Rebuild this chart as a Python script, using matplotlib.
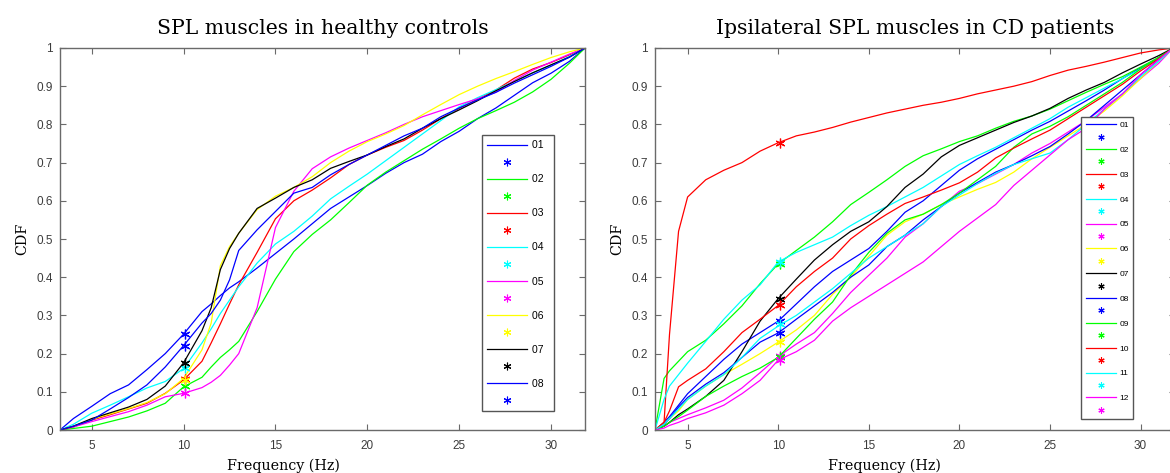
import numpy as np
import matplotlib
matplotlib.use("Agg")
import matplotlib.pyplot as plt
from matplotlib.lines import Line2D

# ---- data ----
# MATLAB style pure colours: b g r c m y k b g r c m
subject_colors = ["#0000ff", "#00ff00", "#ff0000", "#00ffff", "#ff00ff", "#ffff00",
                  "#000000", "#0000ff", "#00ff00", "#ff0000", "#00ffff", "#ff00ff"]

# healthy controls, frequency grid (Hz)
freq_hc = [3.27, 4, 5, 6, 7, 8, 9, 10, 11, 11.5, 12, 12.5, 13, 14, 15, 16, 17, 18,
           19, 20, 21, 22, 23, 24, 25, 26, 27, 28, 29, 30, 31, 31.85]
hc_01 = [0, 0.03, 0.062, 0.095, 0.118, 0.158, 0.20, 0.251, 0.31, 0.33, 0.352, 0.372, 0.388, 0.424, 0.462, 0.50,
         0.54, 0.58, 0.61, 0.64, 0.672, 0.70, 0.722, 0.755, 0.782, 0.815, 0.843, 0.876, 0.909, 0.934, 0.965, 1.0]
hc_02 = [0, 0.004, 0.01, 0.022, 0.034, 0.05, 0.07, 0.113, 0.138, 0.165, 0.19, 0.21, 0.232, 0.31, 0.395, 0.467,
         0.512, 0.55, 0.595, 0.641, 0.675, 0.705, 0.735, 0.762, 0.79, 0.815, 0.836, 0.858, 0.885, 0.918, 0.96, 1.0]
hc_03 = [0, 0.008, 0.026, 0.04, 0.055, 0.07, 0.096, 0.131, 0.18, 0.228, 0.278, 0.33, 0.38, 0.465, 0.553, 0.60,
         0.628, 0.66, 0.695, 0.72, 0.74, 0.758, 0.785, 0.815, 0.842, 0.866, 0.89, 0.921, 0.945, 0.962, 0.982, 1.0]
hc_04 = [0, 0.015, 0.044, 0.065, 0.087, 0.11, 0.127, 0.161, 0.228, 0.265, 0.305, 0.34, 0.375, 0.437, 0.487, 0.52,
         0.56, 0.605, 0.638, 0.67, 0.705, 0.74, 0.775, 0.81, 0.846, 0.87, 0.891, 0.913, 0.935, 0.955, 0.978, 1.0]
hc_05 = [0, 0.008, 0.022, 0.035, 0.048, 0.065, 0.087, 0.096, 0.111, 0.125, 0.143, 0.17, 0.20, 0.32, 0.53, 0.625,
         0.684, 0.715, 0.738, 0.758, 0.778, 0.80, 0.82, 0.836, 0.852, 0.867, 0.884, 0.915, 0.942, 0.963, 0.984, 1.0]
hc_06 = [0, 0.01, 0.028, 0.042, 0.056, 0.072, 0.095, 0.135, 0.21, 0.28, 0.43, 0.48, 0.515, 0.577, 0.612, 0.635,
         0.663, 0.70, 0.73, 0.755, 0.775, 0.797, 0.825, 0.852, 0.878, 0.90, 0.92, 0.938, 0.957, 0.975, 0.99, 1.0]
hc_07 = [0, 0.01, 0.03, 0.045, 0.06, 0.08, 0.115, 0.176, 0.26, 0.32, 0.42, 0.475, 0.515, 0.58, 0.607, 0.635,
         0.655, 0.685, 0.703, 0.72, 0.742, 0.762, 0.79, 0.815, 0.838, 0.862, 0.888, 0.912, 0.935, 0.956, 0.976, 1.0]
hc_08 = [0, 0.01, 0.026, 0.055, 0.085, 0.118, 0.165, 0.221, 0.28, 0.305, 0.34, 0.393, 0.47, 0.524, 0.572, 0.62,
         0.635, 0.668, 0.695, 0.72, 0.745, 0.77, 0.79, 0.82, 0.843, 0.864, 0.884, 0.908, 0.93, 0.952, 0.976, 1.0]
hc_curves = [hc_01, hc_02, hc_03, hc_04, hc_05, hc_06, hc_07, hc_08]
hc_star = [0.251, 0.115, 0.133, 0.163, 0.096, 0.13, 0.176, 0.221]

# CD patients, ipsilateral
freq_cd = [3.2, 3.7, 4, 4.5, 5, 6, 7, 8, 9, 10, 11, 12, 13, 14, 15, 16, 17, 18,
           19, 20, 21, 22, 23, 24, 25, 26, 27, 28, 29, 30, 31, 31.8]
cd_01 = [0, 0.02, 0.035, 0.065, 0.095, 0.14, 0.185, 0.225, 0.255, 0.285, 0.33, 0.375, 0.415, 0.445, 0.475, 0.52,
         0.57, 0.60, 0.64, 0.68, 0.71, 0.735, 0.76, 0.785, 0.808, 0.835, 0.862, 0.89, 0.92, 0.948, 0.975, 1.0]
cd_02 = [0, 0.135, 0.155, 0.18, 0.205, 0.235, 0.278, 0.325, 0.383, 0.435, 0.47, 0.505, 0.545, 0.59, 0.622, 0.655,
         0.69, 0.718, 0.736, 0.755, 0.77, 0.79, 0.808, 0.822, 0.84, 0.862, 0.884, 0.905, 0.925, 0.95, 0.975, 1.0]
cd_03 = [0, 0.02, 0.25, 0.52, 0.61, 0.655, 0.68, 0.70, 0.73, 0.752, 0.77, 0.78, 0.792, 0.806, 0.818, 0.83,
         0.84, 0.85, 0.858, 0.868, 0.88, 0.89, 0.90, 0.912, 0.928, 0.942, 0.952, 0.963, 0.975, 0.987, 0.995, 1.0]
cd_04 = [0, 0.08, 0.115, 0.145, 0.175, 0.232, 0.29, 0.34, 0.38, 0.44, 0.465, 0.485, 0.505, 0.535, 0.562, 0.585,
         0.61, 0.635, 0.665, 0.695, 0.718, 0.74, 0.765, 0.79, 0.815, 0.845, 0.87, 0.895, 0.92, 0.945, 0.972, 1.0]
cd_05 = [0, 0.01, 0.02, 0.03, 0.04, 0.058, 0.078, 0.11, 0.15, 0.192, 0.225, 0.255, 0.305, 0.36, 0.405, 0.45,
         0.505, 0.54, 0.585, 0.625, 0.645, 0.67, 0.695, 0.725, 0.75, 0.78, 0.81, 0.845, 0.88, 0.92, 0.96, 1.0]
cd_06 = [0, 0.015, 0.03, 0.05, 0.08, 0.115, 0.145, 0.172, 0.20, 0.23, 0.262, 0.30, 0.355, 0.40, 0.455, 0.51,
         0.545, 0.565, 0.59, 0.61, 0.63, 0.648, 0.675, 0.71, 0.74, 0.77, 0.80, 0.835, 0.875, 0.92, 0.965, 1.0]
cd_07 = [0, 0.01, 0.02, 0.04, 0.055, 0.088, 0.13, 0.205, 0.285, 0.344, 0.395, 0.445, 0.485, 0.52, 0.545, 0.585,
         0.635, 0.67, 0.715, 0.745, 0.765, 0.785, 0.805, 0.822, 0.842, 0.868, 0.89, 0.91, 0.935, 0.958, 0.98, 1.0]
cd_08 = [0, 0.015, 0.03, 0.06, 0.085, 0.12, 0.15, 0.19, 0.23, 0.254, 0.29, 0.325, 0.36, 0.40, 0.432, 0.48,
         0.51, 0.55, 0.585, 0.62, 0.648, 0.675, 0.695, 0.718, 0.742, 0.775, 0.81, 0.85, 0.89, 0.93, 0.97, 1.0]
cd_09 = [0, 0.01, 0.02, 0.035, 0.052, 0.088, 0.115, 0.14, 0.162, 0.19, 0.24, 0.29, 0.335, 0.405, 0.465, 0.515,
         0.55, 0.565, 0.59, 0.62, 0.655, 0.69, 0.74, 0.775, 0.795, 0.82, 0.85, 0.88, 0.91, 0.945, 0.975, 1.0]
cd_10 = [0, 0.02, 0.05, 0.113, 0.13, 0.16, 0.205, 0.255, 0.29, 0.326, 0.375, 0.415, 0.45, 0.50, 0.535, 0.565,
         0.593, 0.61, 0.628, 0.647, 0.675, 0.712, 0.738, 0.762, 0.785, 0.815, 0.845, 0.875, 0.905, 0.94, 0.972, 1.0]
cd_11 = [0, 0.015, 0.03, 0.055, 0.08, 0.115, 0.145, 0.19, 0.24, 0.272, 0.30, 0.335, 0.37, 0.41, 0.45, 0.48,
         0.51, 0.54, 0.585, 0.615, 0.645, 0.672, 0.695, 0.71, 0.725, 0.76, 0.80, 0.84, 0.88, 0.925, 0.965, 1.0]
cd_12 = [0, 0.005, 0.012, 0.02, 0.03, 0.045, 0.065, 0.095, 0.13, 0.183, 0.205, 0.235, 0.285, 0.32, 0.35, 0.38,
         0.41, 0.44, 0.48, 0.52, 0.555, 0.59, 0.64, 0.68, 0.72, 0.76, 0.79, 0.84, 0.88, 0.93, 0.97, 1.0]
cd_curves = [cd_01, cd_02, cd_03, cd_04, cd_05, cd_06, cd_07, cd_08, cd_09, cd_10, cd_11, cd_12]
cd_star = [0.285, 0.435, 0.752, 0.44, 0.195, 0.23, 0.344, 0.254, 0.19, 0.326, 0.278, 0.183]

star_freq = 10.1
x_ticks = [5, 10, 15, 20, 25, 30]
y_ticks = [0, 0.1, 0.2, 0.3, 0.4, 0.5, 0.6, 0.7, 0.8, 0.9, 1]
y_ticklabels = ["0", "0.1", "0.2", "0.3", "0.4", "0.5", "0.6", "0.7", "0.8", "0.9", "1"]

serif = ["DejaVu Serif"]
sans = ["Liberation Sans", "DejaVu Sans"]
star_marker = (6, 2, 0)


def draw_panel(ax, freq, curves, stars, title, xlim, xlab_x, leg_anchor, leg_fs, leg_spacing,
               leg_handlelen, leg_star, lab_suffix):
    handles, labels = [], []
    for i, cdf in enumerate(curves):
        col = subject_colors[i]
        ln, = ax.plot(freq, cdf, color=col, lw=0.9, zorder=2)
        handles.append(ln)
        labels.append("%02d" % (i + 1) + lab_suffix)
        st = Line2D([], [], color=col, marker=star_marker, ls="none", markersize=leg_star, mew=0.8)
        handles.append(st)
        labels.append("")
    for i, s in enumerate(stars):
        ax.plot([star_freq], [s], ls="none", marker=star_marker, color=subject_colors[i],
                markersize=7, mew=0.9, zorder=3)

    ax.set_xlim(xlim)
    ax.set_ylim(0, 1)
    ax.set_xticks(x_ticks)
    ax.set_yticks(y_ticks)
    ax.set_yticklabels(y_ticklabels)
    ax.tick_params(direction="in", top=True, right=True, length=4, width=0.8,
                   colors="#6a6a6a", labelcolor="#3c3c3c", labelsize=8.5)
    ax.tick_params(axis="x", pad=7)
    ax.tick_params(axis="y", pad=5)
    for lab in ax.get_xticklabels() + ax.get_yticklabels():
        lab.set_family(sans)
    for sp in ax.spines.values():
        sp.set_color("#6a6a6a")
        sp.set_linewidth(1.0)
    ax.set_title(title, family=serif, fontsize=14.7, pad=10)
    ax.set_xlabel("Frequency (Hz)", family=serif, fontsize=10.3)
    ax.xaxis.set_label_coords(xlab_x, -0.075)
    ax.set_ylabel("CDF", family=serif, fontsize=10.3, labelpad=5)

    leg = ax.legend(handles, labels, loc="upper left", bbox_to_anchor=leg_anchor,
                    borderaxespad=0, fancybox=False, framealpha=1, edgecolor="#555555",
                    prop={"family": sans, "size": leg_fs}, labelspacing=leg_spacing,
                    handlelength=leg_handlelen, handletextpad=0.45, borderpad=0.5)
    leg.get_frame().set_linewidth(1.0)
    leg.set_zorder(5)


fig = plt.figure(figsize=(11.7, 4.73), dpi=100)
ax1 = fig.add_axes([60 / 1170, 43 / 473, 525 / 1170, 382 / 473])
ax2 = fig.add_axes([655 / 1170, 43 / 473, 520 / 1170, 382 / 473])

draw_panel(ax1, freq_hc, hc_curves, hc_star, "SPL muscles in healthy controls",
           (3.27, 31.85), 0.425, (0.803, 0.772), 7.5, 0.675, 3.85, 5.5, "  ")
draw_panel(ax2, freq_cd, cd_curves, cd_star, "Ipsilateral SPL muscles in CD patients",
           (3.2, 31.9), 0.442, (0.82, 0.819), 6.0, 0.55, 3.6, 4.5, "")

fig.savefig("out.png", dpi=100)
